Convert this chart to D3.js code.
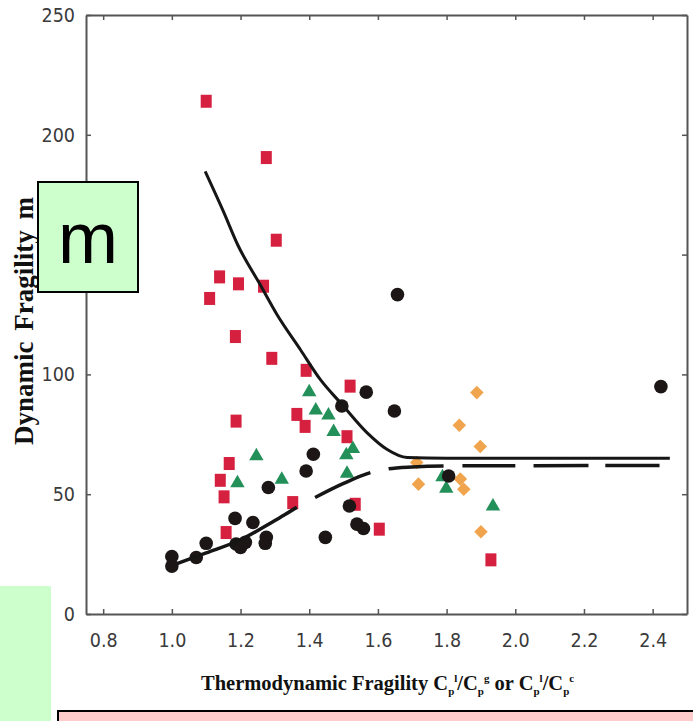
<!DOCTYPE html>
<html>
<head>
<meta charset="utf-8">
<script src="https://cdn.jsdelivr.net/npm/d3@7"></script>
<style>
  body { margin: 0; background: #fff; }
  svg { display: block; }
</style>
</head>
<body>
<div id="holder"></div>
<script>
const width = 693;
const height = 721;

// tick values
const xTicks = [0.8, 1.0, 1.2, 1.4, 1.6, 1.8, 2.0, 2.2, 2.4];
const yTicks = [0, 50, 100, 150, 200, 250];

// data: [Cp ratio, m]
const redSquares = [
    [1.10, 214], [1.275, 190.5], [1.304, 156], [1.139, 140.7], [1.194, 137.8],
    [1.267, 136.8], [1.11, 131.7], [1.185, 115.8], [1.291, 106.7], [1.391, 101.7],
    [1.519, 95.1], [1.364, 83.3], [1.388, 78.3], [1.187, 80.5], [1.167, 62.8],
    [1.141, 55.8], [1.152, 48.9], [1.158, 34], [1.352, 46.5], [1.51, 74],
    [1.534, 45.8], [1.604, 35.4], [1.929, 22.6]
];
const greenTriangles = [
    [1.40, 93], [1.419, 85.4], [1.456, 83.3], [1.471, 76.4], [1.508, 66.7],
    [1.527, 69.4], [1.51, 59], [1.246, 66.3], [1.191, 55.1], [1.32, 56.5],
    [1.788, 57.6], [1.799, 52.8], [1.935, 45.4]
];
const orangeDiamonds = [
    [1.888, 92.4], [1.837, 78.8], [1.898, 69.9], [1.713, 63.2], [1.718, 54.2],
    [1.84, 56.3], [1.85, 52.1], [1.9, 34.3]
];
const blackCircles = [
    [1.566, 92.6], [1.495, 86.8], [1.412, 66.7], [1.391, 59.7], [1.281, 52.8],
    [1.517, 45.1], [1.539, 37.5], [1.558, 35.7], [1.447, 32], [1.275, 32],
    [1.272, 29.5], [1.184, 39.9], [1.236, 38.2], [1.187, 29.2], [1.214, 29.9],
    [1.20, 27.8], [1.10, 29.5], [1.071, 23.6], [1.0, 24], [1.0, 20],
    [1.648, 84.7], [1.806, 57.6], [1.657, 133.3], [2.424, 94.9]
];

// fitted curves
const solidCurve = [
    [1.097, 184.7], [1.15, 168], [1.192, 154], [1.257, 137.5], [1.306, 125],
    [1.374, 110.4], [1.432, 97.9], [1.495, 87.5], [1.568, 75.7], [1.626, 68.75],
    [1.685, 65.3], [1.8, 65], [2.45, 65]
];
const dashedCurve = [
    [1.01, 20.8], [1.1, 25.5], [1.2, 31], [1.3, 39], [1.364, 44.5],
    [1.417, 48.6], [1.5, 54.5], [1.578, 59], [1.631, 60.6], [1.7, 61.4],
    [1.79, 61.8], [2.42, 62]
];
// where each dash of the dashed curve starts and ends (x values)
const dashBreaks = [
    [1.015, 1.364], [1.417, 1.578], [1.631, 1.791], [1.846, 2.0],
    [2.053, 2.213], [2.262, 2.423]
];

const svg = d3.select("#holder")
    .append("svg")
    .attr("width", width)
    .attr("height", height);

const xScale = d3.scaleLinear().domain([0.75, 2.5]).range([86, 687]);
const yScale = d3.scaleLinear().domain([0, 250]).range([614, 15]);

const tickFont = "'Liberation Sans Narrow', 'DejaVu Sans Condensed', sans-serif";

const xAxis = d3.axisBottom(xScale).tickValues(xTicks).tickFormat(d3.format(".1f"))
    .tickSizeInner(-5).tickSizeOuter(0).tickPadding(19);
const yAxis = d3.axisLeft(yScale).tickValues(yTicks).tickFormat(d3.format("d"))
    .tickSizeInner(-5).tickSizeOuter(0).tickPadding(11);

svg.append("g")
    .attr("transform", "translate(0, 614)")
    .call(xAxis);
svg.append("g")
    .attr("transform", "translate(86, 0)")
    .call(yAxis);
svg.append("g")
    .attr("transform", "translate(0, 15)")
    .call(d3.axisTop(xScale).tickValues(xTicks).tickSizeInner(-5).tickSizeOuter(0).tickFormat(""));
svg.append("g")
    .attr("transform", "translate(687, 0)")
    .call(d3.axisRight(yScale).tickValues(yTicks).tickSizeInner(-5).tickSizeOuter(0).tickFormat(""));

svg.selectAll(".domain").attr("stroke", "#555").attr("stroke-width", 2);
svg.selectAll(".tick line").attr("stroke", "#555").attr("stroke-width", 1.5);
svg.selectAll(".tick text")
    .style("font-family", tickFont)
    .style("font-size", "19.5px")
    .attr("fill", "#3a3a3a");

// markers
svg.append("g")
    .selectAll("rect")
    .data(redSquares)
    .enter()
    .append("rect")
    .attr("x", (d) => xScale(d[0]) - 5.5)
    .attr("y", (d) => yScale(d[1]) - 6.5)
    .attr("width", 11)
    .attr("height", 13)
    .attr("fill", "#d5203f");

svg.append("g")
    .selectAll("path")
    .data(greenTriangles)
    .enter()
    .append("path")
    .attr("d", d3.symbol().type(d3.symbolTriangle).size(90))
    .attr("transform", (d) => `translate(${xScale(d[0])}, ${yScale(d[1]) + 1})`)
    .attr("fill", "#23905a");

svg.append("g")
    .selectAll("path")
    .data(orangeDiamonds)
    .enter()
    .append("path")
    .attr("d", d3.symbol().type(d3.symbolSquare).size(92))
    .attr("transform", (d) => `translate(${xScale(d[0])}, ${yScale(d[1])}) rotate(45)`)
    .attr("fill", "#f0a44e");

svg.append("g")
    .selectAll("circle")
    .data(blackCircles)
    .enter()
    .append("circle")
    .attr("cx", (d) => xScale(d[0]))
    .attr("cy", (d) => yScale(d[1]))
    .attr("r", 6.8)
    .attr("fill", "#1c1616");

// curves
const line = d3.line()
    .x((d) => xScale(d[0]))
    .y((d) => yScale(d[1]))
    .curve(d3.curveMonotoneX);

svg.append("path")
    .datum(solidCurve)
    .attr("d", line)
    .attr("fill", "none")
    .attr("stroke", "#161616")
    .attr("stroke-width", 3);

const dashed = svg.append("path")
    .datum(dashedCurve)
    .attr("d", line)
    .attr("fill", "none")
    .attr("stroke", "#161616")
    .attr("stroke-width", 3.5);

// turn the dash breaks (in x) into lengths along the path
const node = dashed.node();
const total = node.getTotalLength();
const lengthAtX = (px) => {
    let lo = 0, hi = total;
    for (let i = 0; i < 40; i++) {
        const mid = (lo + hi) / 2;
        if (node.getPointAtLength(mid).x < px) lo = mid; else hi = mid;
    }
    return lo;
};
const dashArray = [];
let pos = 0;
dashBreaks.forEach(([a, b]) => {
    const la = lengthAtX(xScale(a));
    const lb = lengthAtX(xScale(b));
    dashArray.push(la - pos, lb - la);
    pos = lb;
});
dashArray.push(total + 100);
dashed.attr("stroke-dasharray", "0.01," + dashArray.map((v, i) => i === 0 ? Math.max(v - 0.01, 0) : v).join(","));

// axis titles
const subSize = "11px";
const xTitle = svg.append("text")
    .attr("x", 201)
    .attr("y", 690)
    .style("font-family", "'Liberation Serif', 'Times New Roman', serif")
    .style("font-weight", "bold")
    .style("font-size", "20.5px")
    .attr("fill", "#111");
xTitle.append("tspan").text("Thermodynamic Fragility C");
xTitle.append("tspan").attr("dy", 5).style("font-size", subSize).text("p");
xTitle.append("tspan").attr("dy", -13).style("font-size", subSize).text("l");
xTitle.append("tspan").attr("dy", 8).text("/C");
xTitle.append("tspan").attr("dy", 5).style("font-size", subSize).text("p");
xTitle.append("tspan").attr("dy", -13).style("font-size", subSize).text("g");
xTitle.append("tspan").attr("dy", 8).text(" or C");
xTitle.append("tspan").attr("dy", 5).style("font-size", subSize).text("p");
xTitle.append("tspan").attr("dy", -13).style("font-size", subSize).text("l");
xTitle.append("tspan").attr("dy", 8).text("/C");
xTitle.append("tspan").attr("dy", 5).style("font-size", subSize).text("p");
xTitle.append("tspan").attr("dy", -13).style("font-size", subSize).text("c");

svg.append("text")
    .attr("transform", "translate(33, 445) rotate(-90)")
    .style("font-family", "'Liberation Serif', 'Times New Roman', serif")
    .style("font-weight", "bold")
    .style("font-size", "27px")
    .style("word-spacing", "4px")
    .attr("fill", "#111")
    .text("Dynamic Fragility m");

// overlay boxes
svg.append("rect")
    .attr("x", 0).attr("y", 586)
    .attr("width", 51).attr("height", 140)
    .attr("fill", "#ccffcc");

svg.append("rect")
    .attr("x", 58).attr("y", 711)
    .attr("width", 640).attr("height", 20)
    .attr("fill", "#ffcccc")
    .attr("stroke", "#000")
    .attr("stroke-width", 2);

svg.append("rect")
    .attr("x", 38).attr("y", 182)
    .attr("width", 100).attr("height", 110)
    .attr("fill", "#ccffcc")
    .attr("stroke", "#000")
    .attr("stroke-width", 2);

svg.append("text")
    .attr("x", 88)
    .attr("y", 263)
    .attr("text-anchor", "middle")
    .style("font-family", "'Liberation Sans', Arial, sans-serif")
    .style("font-size", "72px")
    .attr("fill", "#000")
    .text("m");
</script>
</body>
</html>
